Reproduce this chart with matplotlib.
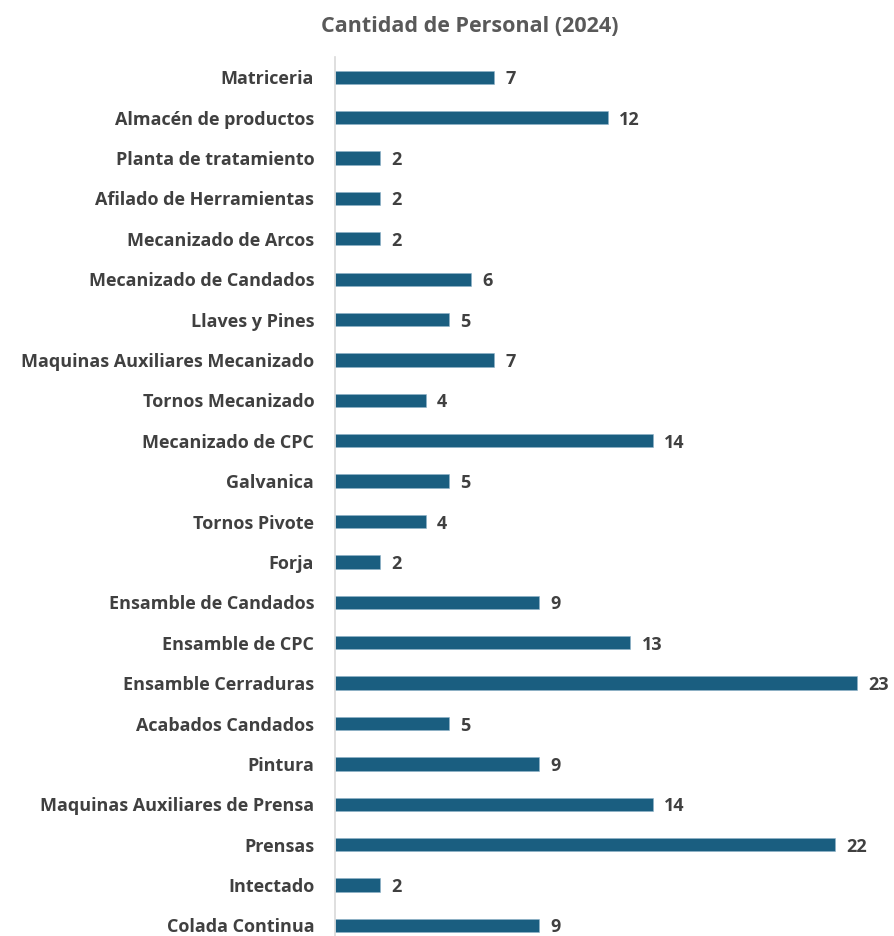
import matplotlib
matplotlib.use("Agg")
import matplotlib.pyplot as plt

categories = ["Matriceria", "Almacén de productos", "Planta de tratamiento",
              "Afilado de Herramientas", "Mecanizado de Arcos", "Mecanizado de Candados",
              "Llaves y Pines", "Maquinas Auxiliares Mecanizado", "Tornos Mecanizado",
              "Mecanizado de CPC", "Galvanica", "Tornos Pivote", "Forja",
              "Ensamble de Candados", "Ensamble de CPC", "Ensamble Cerraduras",
              "Acabados Candados", "Pintura", "Maquinas Auxiliares de Prensa",
              "Prensas", "Intectado", "Colada Continua"]
values = [7, 12, 2, 2, 2, 6, 5, 7, 4, 14, 5, 4, 2, 9, 13, 23, 5, 9, 14, 22, 2, 9]

W, H = 895, 936
fig = plt.figure(figsize=(W/100, H/100), dpi=100)
left, right = 335, 880
top, bottom = 57, 936
ax = fig.add_axes([left/W, 1-bottom/H, (right-left)/W, (bottom-top)/H])

ypos = list(range(len(categories)))
ax.barh(ypos, values, height=0.33, color="#1A5E80", edgecolor="#8fb3c8", linewidth=0.4)
ax.set_xlim(0, 24)
ax.set_ylim(21.26, -0.5)
ax.set_yticks(ypos)
ax.set_yticklabels(categories, fontsize=13, fontweight="bold", color="#404040",
                   family="Open Sans")
ax.tick_params(axis="y", length=0, pad=15)
ax.set_xticks([])
for s in ["top", "right", "bottom"]:
    ax.spines[s].set_visible(False)
ax.spines["left"].set_color("#d9d9d9")
ax.spines["left"].set_linewidth(1.2)

for y, v in zip(ypos, values):
    ax.text(v + 0.5, y, str(v), va="center_baseline", ha="left", fontsize=13,
            fontweight="bold", color="#404040", family="Open Sans")

fig.text(470/W, 1-27/H, "Cantidad de Personal (2024)", ha="center", va="center",
         fontsize=15.5, fontweight="bold", color="#595959", family="Open Sans")

fig.savefig("out.png", dpi=100, facecolor="white")
